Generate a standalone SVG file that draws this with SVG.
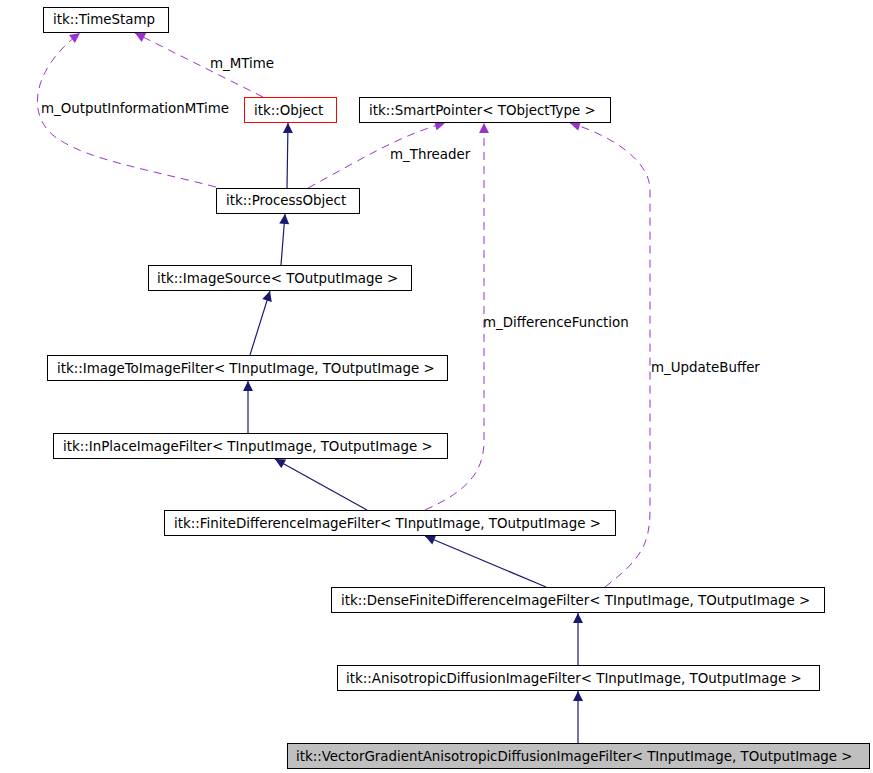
<svg xmlns="http://www.w3.org/2000/svg" width="873" height="773" viewBox="0 0 873 773">
<defs>
<marker id="ah" viewBox="0 0 10 10" refX="10" refY="5" markerWidth="12" markerHeight="10" markerUnits="userSpaceOnUse" orient="auto"><path d="M0,0L10,5L0,10z" fill="#191970"/></marker>
<marker id="ap" viewBox="0 0 10 10" refX="10" refY="5" markerWidth="12" markerHeight="10" markerUnits="userSpaceOnUse" orient="auto"><path d="M0,0L10,5L0,10z" fill="#9a32cd"/></marker>
</defs>
<style>
text{font-family:"DejaVu Sans",sans-serif;font-size:13.4px;fill:#000}
.n rect{fill:#fff;stroke:#000;stroke-width:1}
.s{fill:none;stroke:#191970;stroke-width:1.2;marker-end:url(#ah)}
.d{fill:none;stroke:#9a32cd;stroke-width:1;stroke-dasharray:8,6;marker-end:url(#ap)}
</style>
<rect width="873" height="773" fill="#fff"/>
<g id="connectors">
<path class="s" d="M287,188L288,123"/>
<path class="s" d="M281,265L285,214"/>
<path class="s" d="M250,355L270,291"/>
<path class="s" d="M248,433L248,381"/>
<path class="s" d="M367,510L275,459"/>
<path class="s" d="M546,587L425,536"/>
<path class="s" d="M578,665L578,613"/>
<path class="s" d="M578,743L578,691"/>
<path class="d" d="M263,97L135,33"/>
<path class="d" d="M216,187C150,170 90,160 60,140C25,120 30,70 80,33"/>
<path class="d" d="M308,188C360,160 400,135 445,123"/>
<path class="d" d="M425,510C470,490 484,470 484,440L484,123"/>
<path class="d" d="M605,587C640,560 650,545 650,510L650,190C650,160 610,135 570,123"/>
<text x="210" y="68">m_MTime</text>
<text x="41" y="113">m_OutputInformationMTime</text>
<text x="390" y="159">m_Threader</text>
<text x="483" y="327">m_DifferenceFunction</text>
<text x="651" y="372">m_UpdateBuffer</text>
</g>
<g id="timestamp" class="n"><rect x="43.5" y="7.5" width="125" height="25"/><text x="53" y="24">itk::TimeStamp</text></g>
<g id="object" class="n"><rect x="244.5" y="97.5" width="92" height="25" style="stroke:#f00"/><text x="254" y="115">itk::Object</text></g>
<g id="smartpointer" class="n"><rect x="359.5" y="97.5" width="251" height="25"/><text x="369" y="115">itk::SmartPointer&lt; TObjectType &gt;</text></g>
<g id="processobject" class="n"><rect x="216.5" y="188.5" width="143" height="25"/><text x="226" y="205">itk::ProcessObject</text></g>
<g id="imagesource" class="n"><rect x="148.5" y="265.5" width="263" height="25"/><text x="157" y="283">itk::ImageSource&lt; TOutputImage &gt;</text></g>
<g id="imagetoimage" class="n"><rect x="47.5" y="355.5" width="400" height="25"/><text x="57" y="373">itk::ImageToImageFilter&lt; TInputImage, TOutputImage &gt;</text></g>
<g id="inplace" class="n"><rect x="53.5" y="433.5" width="394" height="25"/><text x="63" y="451">itk::InPlaceImageFilter&lt; TInputImage, TOutputImage &gt;</text></g>
<g id="finitediff" class="n"><rect x="164.5" y="510.5" width="451" height="25"/><text x="174" y="528">itk::FiniteDifferenceImageFilter&lt; TInputImage, TOutputImage &gt;</text></g>
<g id="densefinitediff" class="n"><rect x="331.5" y="587.5" width="493" height="25"/><text x="341" y="605">itk::DenseFiniteDifferenceImageFilter&lt; TInputImage, TOutputImage &gt;</text></g>
<g id="aniso" class="n"><rect x="337.5" y="665.5" width="482" height="25"/><text x="346" y="683">itk::AnisotropicDiffusionImageFilter&lt; TInputImage, TOutputImage &gt;</text></g>
<g id="vector" class="n"><rect x="287.5" y="743.5" width="582" height="25" style="fill:#bfbfbf"/><text x="296" y="761">itk::VectorGradientAnisotropicDiffusionImageFilter&lt; TInputImage, TOutputImage &gt;</text></g>
</svg>
